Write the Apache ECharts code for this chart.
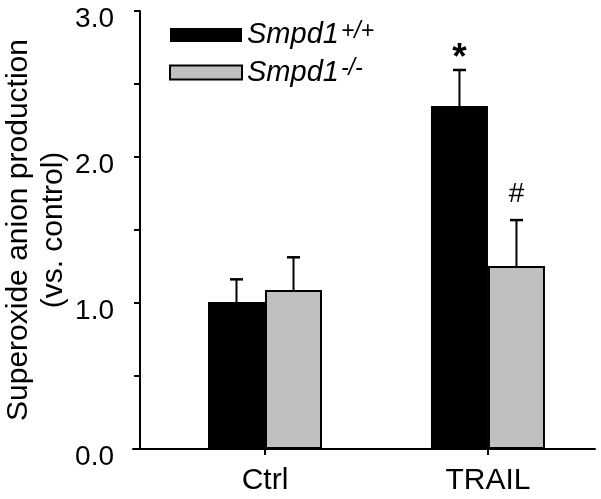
<!DOCTYPE html>
<html>
<head>
<meta charset="utf-8">
<script src="https://cdn.jsdelivr.net/npm/echarts@6/dist/echarts.min.js"></script>
<style>html,body{margin:0;padding:0;background:#fff}#c{width:601px;height:499px}</style>
</head>
<body>
<div id="c"></div>
<script>
// ---- data ----
const categories = ['Ctrl', 'TRAIL'];
const genotypeBase = 'Smpd1';
const genotypeSup = ['+/+', '-/-'];
const wtMean = [1.007, 2.349];
const wtErr = [0.155, 0.247];
const koMean = [1.089, 1.253];
const koErr = [0.224, 0.315];
const wtSig = ['', '*'];
const koSig = ['', '#'];
const yTicks = [0, 1, 2, 3];

const FONT = '"Liberation Sans", Arial, Helvetica, sans-serif';
const BAR_W = 57;
const names = genotypeSup.map(s => genotypeBase + s);

function errRender(offset, sigArr, sigStyle, sigGap) {
  return function (params, api) {
    const x = api.value(0), m = api.value(1), e = api.value(2);
    const base = api.coord([x, m]);
    const top = api.coord([x, m + e]);
    const cx = base[0] + offset;
    const children = [
      { type: 'line', shape: { x1: cx, y1: base[1], x2: cx, y2: top[1] }, style: { stroke: '#000', lineWidth: 2 } },
      { type: 'line', shape: { x1: cx - 6.5, y1: top[1], x2: cx + 6.5, y2: top[1] }, style: { stroke: '#000', lineWidth: 2.5 } }
    ];
    const sig = sigArr[params.dataIndex];
    if (sig) {
      children.push({ type: 'text', style: Object.assign({ text: sig, x: cx, y: top[1] - sigGap, align: 'center', verticalAlign: 'bottom', fill: '#000', fontFamily: FONT }, sigStyle) });
    }
    return { type: 'group', children };
  };
}

const chart = echarts.init(document.getElementById('c'), null, { renderer: 'canvas' });
chart.setOption({
  animation: false,
  backgroundColor: '#fff',
  grid: { left: 133, right: 6, top: 11, bottom: 50, containLabel: false, outerBoundsMode: 'none' },
  legend: {
    orient: 'vertical', left: 164, top: 15, itemWidth: 72, itemHeight: 14, itemGap: 8,
    padding: 5,
    icon: 'rect',
    data: names,
    formatter: function (n) { const i = names.indexOf(n); return '{a|' + genotypeBase + '}{b|' + genotypeSup[i] + '}'; },
    textStyle: {
      fontSize: 29, fontStyle: 'italic', fontFamily: FONT, color: '#000',
      rich: {
        a: { fontSize: 29, fontStyle: 'italic', fontFamily: FONT, color: '#000', lineHeight: 30 },
        b: { fontSize: 23, fontStyle: 'italic', fontFamily: FONT, color: '#000', verticalAlign: 'top', lineHeight: 24, padding: [0, 0, 0, 2] }
      }
    }
  },
  xAxis: {
    type: 'value', min: -0.592, max: 1.48,
    splitLine: { show: false },
    axisLine: { show: true, onZero: false, lineStyle: { color: '#000', width: 2 } },
    axisTick: { show: true, length: 6, customValues: [0, 1], lineStyle: { color: '#000', width: 2 } },
    axisLabel: { customValues: [0, 1], formatter: v => categories[Math.round(v)] || '', fontSize: 30, fontFamily: FONT, color: '#000', margin: 17 }
  },
  yAxis: {
    type: 'value', min: 0, max: 3, interval: 0.5, offset: -7,
    name: 'Superoxide anion production\n(vs. control)',
    nameLocation: 'middle', nameGap: 69, nameRotate: 90, nameMoveOverlap: false,
    nameTextStyle: { fontSize: 30, fontFamily: FONT, color: '#000', lineHeight: 35 },
    splitLine: { show: false },
    axisLine: { show: true, onZero: false, lineStyle: { color: '#000', width: 2 } },
    axisTick: { show: true, length: 6, lineStyle: { color: '#000', width: 2 } },
    axisLabel: {
      formatter: v => (yTicks.indexOf(v) >= 0 ? '{t|' + v.toFixed(1) + '}' : ''),
      color: '#000', margin: 26,
      rich: { t: { fontSize: 28, fontFamily: FONT, color: '#000', padding: [16, 0, 0, 0] } }
    }
  },
  series: [
    {
      name: names[0], type: 'bar', barWidth: BAR_W, barGap: '0%',
      itemStyle: { color: '#000', borderColor: '#000', borderWidth: 0 },
      data: wtMean.map((v, i) => [i, v])
    },
    {
      name: names[1], type: 'bar', barWidth: BAR_W, barGap: '0%',
      itemStyle: { color: '#c0c0c0', borderColor: '#000', borderWidth: 2 },
      data: koMean.map((v, i) => [i, v])
    },
    {
      type: 'custom', z: 5, silent: true,
      renderItem: errRender(-BAR_W / 2, wtSig, { fontSize: 37, fontWeight: 'bold' }, -7),
      data: wtMean.map((v, i) => [i, v, wtErr[i]])
    },
    {
      type: 'custom', z: 5, silent: true,
      renderItem: errRender(BAR_W / 2, koSig, { fontSize: 28 }, 12),
      data: koMean.map((v, i) => [i, v, koErr[i]])
    }
  ]
});
</script>
</body>
</html>
